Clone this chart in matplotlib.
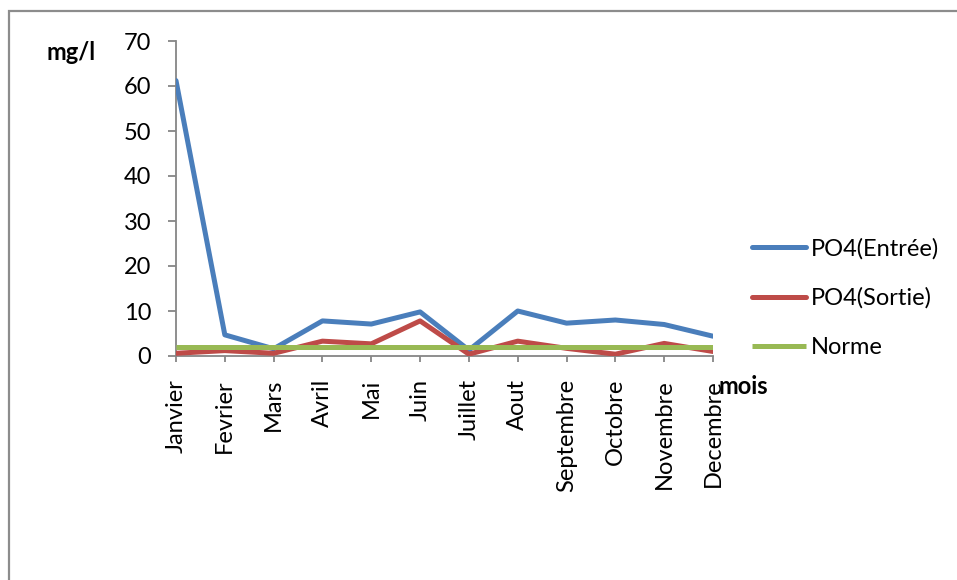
import matplotlib
matplotlib.use("Agg")
import matplotlib.pyplot as plt
from matplotlib.patches import Rectangle

months = ["Janvier", "Fevrier", "Mars", "Avril", "Mai", "Juin", "Juillet",
          "Aout", "Septembre", "Octobre", "Novembre", "Decembre"]
po4_entree = [61.2, 4.7, 1.6, 7.8, 7.1, 9.8, 1.3, 10.0, 7.3, 8.0, 7.0, 4.4]
po4_sortie = [0.6, 1.2, 0.6, 3.3, 2.7, 7.8, 0.4, 3.3, 1.7, 0.4, 2.8, 1.0]
norme = [2.0] * 12

plt.rcParams['font.family'] = ['Lato', 'DejaVu Sans']

W, H = 957, 580
fig = plt.figure(figsize=(W / 100, H / 100), dpi=100)
fig.patch.set_facecolor("white")

# outer chart frame (runs past the right and bottom edges)
fig.add_artist(Rectangle((9 / W, -0.05), 1.2, 1 - 11 / H + 0.05,
                         transform=fig.transFigure, fill=False,
                         edgecolor="#8c8c8c", linewidth=1.6))

x0, x1 = 176, 713
y0, y1 = 356, 41
ax = fig.add_axes([x0 / W, 1 - y0 / H, (x1 - x0) / W, (y0 - y1) / H])

xs = list(range(len(months)))
lw = 3.6
ax.plot(xs, po4_entree, color="#4a7ebb", lw=lw, label="PO4(Entrée)",
        solid_capstyle="round", solid_joinstyle="round", zorder=3)
ax.plot(xs, po4_sortie, color="#be4b48", lw=lw, label="PO4(Sortie)",
        solid_capstyle="round", solid_joinstyle="round", zorder=4)
ax.plot(xs, norme, color="#98b954", lw=lw, label="Norme",
        solid_capstyle="butt", zorder=5)

ax.set_xlim(0, 11)
ax.set_ylim(0, 70)
ax.set_yticks(range(0, 71, 10))
ax.set_xticks(xs)
ax.set_xticklabels(months, rotation=90, fontsize=17)
ax.tick_params(axis="y", labelsize=17, length=5.8, color="#868686", width=1.3, pad=12)
ax.tick_params(axis="x", length=4.5, color="#868686", width=1.3, pad=12)

for side in ("top", "right"):
    ax.spines[side].set_visible(False)
for side in ("left", "bottom"):
    ax.spines[side].set_color("#868686")
    ax.spines[side].set_linewidth(1.3)

fig.text(47 / W, 1 - 52 / H, "mg/l", fontsize=17, fontweight="bold",
         ha="left", va="center")
fig.text(718 / W, 1 - 386 / H, "mois", fontsize=17, fontweight="bold",
         ha="left", va="center")

leg = fig.legend(*ax.get_legend_handles_labels(), loc="center left",
                 bbox_to_anchor=(752 / W, 1 - 298 / H), frameon=False,
                 fontsize=17, handlelength=2.3, handletextpad=0.2,
                 labelspacing=1.2, borderpad=0, borderaxespad=0)

fig.savefig("out.png", dpi=100)
